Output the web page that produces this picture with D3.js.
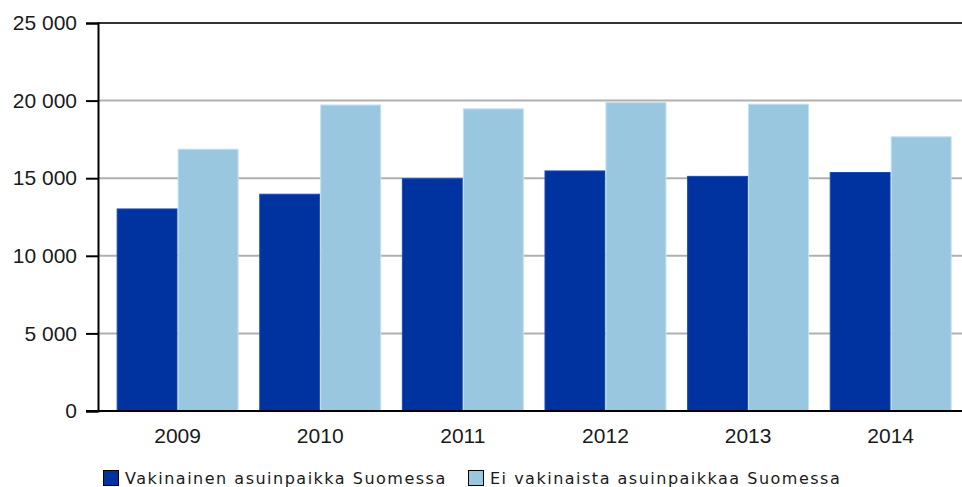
<!DOCTYPE html>
<html>
<head>
<meta charset="utf-8">
<script src="https://cdn.jsdelivr.net/npm/d3@7"></script>
<style>
  html, body { margin: 0; padding: 0; background: #fff; }
  svg { display: block; }
</style>
</head>
<body>
<svg id="chart" width="962" height="487"></svg>
<script>
const years = ["2009", "2010", "2011", "2012", "2013", "2014"];
const seriesNames = ["Vakinainen asuinpaikka Suomessa", "Ei vakinaista asuinpaikkaa Suomessa"];
const permanent = [13050, 14000, 15000, 15500, 15150, 15400];
const nonPermanent = [16900, 19750, 19500, 19900, 19800, 17700];
const yTicks = [0, 5000, 10000, 15000, 20000, 25000];
const colors = ["#0033a0", "#99c7e0"];
const strokes = ["#1a4cb0", "#c2e0f0"];

(function () {
const svg = d3.select("#chart");
const mLeft = 98, mTop = 23, mBottom = 411, mRight = 962;

const y = d3.scaleLinear().domain([0, 25000]).range([mBottom, mTop]);
const x = d3.scaleBand().domain(years).range([106.3, 962]).paddingInner(0.145).paddingOuter(0.0725);
const xs = d3.scaleBand().domain([0, 1]).range([0, x.bandwidth()]);

const fmt = v => d3.format(",")(v).replace(/,/g, " ");

// gridlines
svg.append("g").selectAll("line").data(yTicks.filter(t => t > 0 && t < 25000)).join("line")
  .attr("x1", mLeft).attr("x2", mRight)
  .attr("y1", d => y(d)).attr("y2", d => y(d))
  .attr("stroke", "#b0b0b0").attr("stroke-width", 2);
// top line
svg.append("line").attr("x1", mLeft).attr("x2", mRight).attr("y1", y(25000)).attr("y2", y(25000))
  .attr("stroke", "#333").attr("stroke-width", 2);

// bars
const data = [permanent, nonPermanent];
const g = svg.append("g");
years.forEach((yr, i) => {
  [0, 1].forEach(s => {
    const v = data[s][i];
    g.append("rect")
      .attr("x", x(yr) + xs(s) + 0.5)
      .attr("y", y(v) + 0.5)
      .attr("width", xs.bandwidth() - 1)
      .attr("height", y(0) - y(v) - 0.5)
      .attr("fill", colors[s])
      .attr("stroke", strokes[s]).attr("stroke-width", 1);
  });
});

// y axis
const yAxis = d3.axisLeft(y).tickValues(yTicks).tickFormat(fmt).tickSize(12).tickPadding(9);
const ya = svg.append("g").attr("transform", `translate(${mLeft},0)`).call(yAxis);
ya.select(".domain").attr("stroke", "#000").attr("stroke-width", 2);
ya.selectAll(".tick line").attr("stroke", "#000").attr("stroke-width", 2);
ya.selectAll("text").attr("font-family", "Liberation Sans, Arial, sans-serif").attr("font-size", 21).attr("fill", "#1a1a1a");

// baseline
svg.append("line").attr("x1", mLeft - 12).attr("x2", mRight).attr("y1", y(0)).attr("y2", y(0))
  .attr("stroke", "#000").attr("stroke-width", 2);

// x axis labels
const xAxis = d3.axisBottom(x).tickSize(0).tickPadding(17);
const xa = svg.append("g").attr("transform", `translate(0,${mBottom})`).call(xAxis);
xa.select(".domain").remove();
xa.selectAll("text").attr("font-family", "Liberation Sans, Arial, sans-serif").attr("font-size", 21).attr("fill", "#1a1a1a");

// legend
const legendX = [103, 468];
seriesNames.forEach((name, s) => {
  const lg = svg.append("g").attr("transform", `translate(${legendX[s]},470)`);
  lg.append("rect").attr("x", 0.5).attr("y", 0.5).attr("width", 15).attr("height", 15)
    .attr("fill", colors[s]).attr("stroke", "#000").attr("stroke-width", 1);
  lg.append("text").attr("x", 22).attr("y", 14)
    .attr("font-family", "DejaVu Sans, Verdana, sans-serif").attr("font-size", 16)
    .attr("letter-spacing", 1.5).attr("fill", "#1a1a1a").text(name);
});
})();
</script>
</body>
</html>
